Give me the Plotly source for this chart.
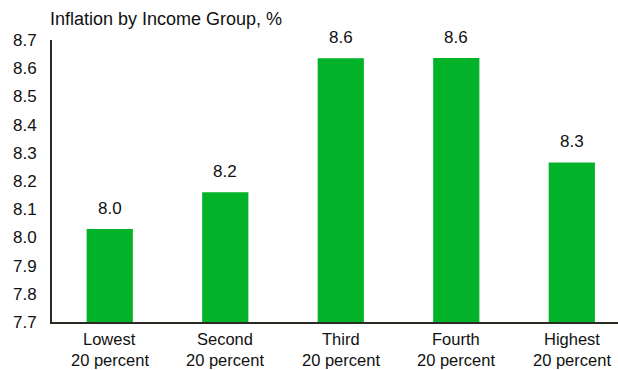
import plotly.graph_objects as go

groups = ["Lowest", "Second", "Third", "Fourth", "Highest"]
group_sub = "20 percent"
values = [8.03, 8.16, 8.635, 8.636, 8.266]
bar_labels = [f"{v:.1f}" for v in values]
y_ticks = [7.7, 7.8, 7.9, 8.0, 8.1, 8.2, 8.3, 8.4, 8.5, 8.6, 8.7]
BASE = 7.7

FONT = "Liberation Sans, Arial, sans-serif"
GREEN = "#02b32a"
TXT = "#111111"

xs = list(range(len(groups)))

fig = go.Figure()
fig.add_trace(go.Bar(x=xs, y=[v - BASE for v in values], base=BASE, width=0.4,
                     marker=dict(color=GREEN, line=dict(width=0)),
                     hoverinfo="skip"))

for x, v, t in zip(xs, values, bar_labels):
    fig.add_annotation(x=x, y=v, text=t, showarrow=False, yanchor="bottom",
                       yshift=9, font=dict(family=FONT, size=17, color=TXT))

# two-line category labels with tight line spacing
for x, g in zip(xs, groups):
    fig.add_annotation(x=x, xref="x", y=0, yref="paper", text=g, showarrow=False,
                       yanchor="middle", yshift=-17, borderpad=0,
                       font=dict(family=FONT, size=16.5, color=TXT))
    fig.add_annotation(x=x, xref="x", y=0, yref="paper", text=group_sub, showarrow=False,
                       yanchor="bottom", yshift=-48, borderpad=0,
                       font=dict(family=FONT, size=16.5, color=TXT))

fig.update_layout(
    width=618, height=370,
    margin=dict(l=52, r=0, t=40, b=48),
    paper_bgcolor="white", plot_bgcolor="white",
    showlegend=False,
    font=dict(family=FONT, size=17, color=TXT),
    title=dict(text="Inflation by Income Group, %", xref="container", yref="container",
               x=50/618, xanchor="left", y=1 - 19/370, yanchor="middle",
               font=dict(family=FONT, size=18, color=TXT)),
    xaxis=dict(range=[-0.5, 4.4], tickvals=xs, showticklabels=False,
               showline=True, linecolor="#2a2a22", linewidth=2,
               showgrid=False, zeroline=False, ticks="", automargin=False),
    yaxis=dict(range=[7.7, 8.7], tickvals=y_ticks, tickformat=".1f",
               showline=True, linecolor="#2a2a22", linewidth=2,
               showgrid=False, zeroline=False, ticks="",
               ticklabelstandoff=10, automargin=False,
               tickfont=dict(family=FONT, size=17, color=TXT)),
)

fig.write_html("out.html")
